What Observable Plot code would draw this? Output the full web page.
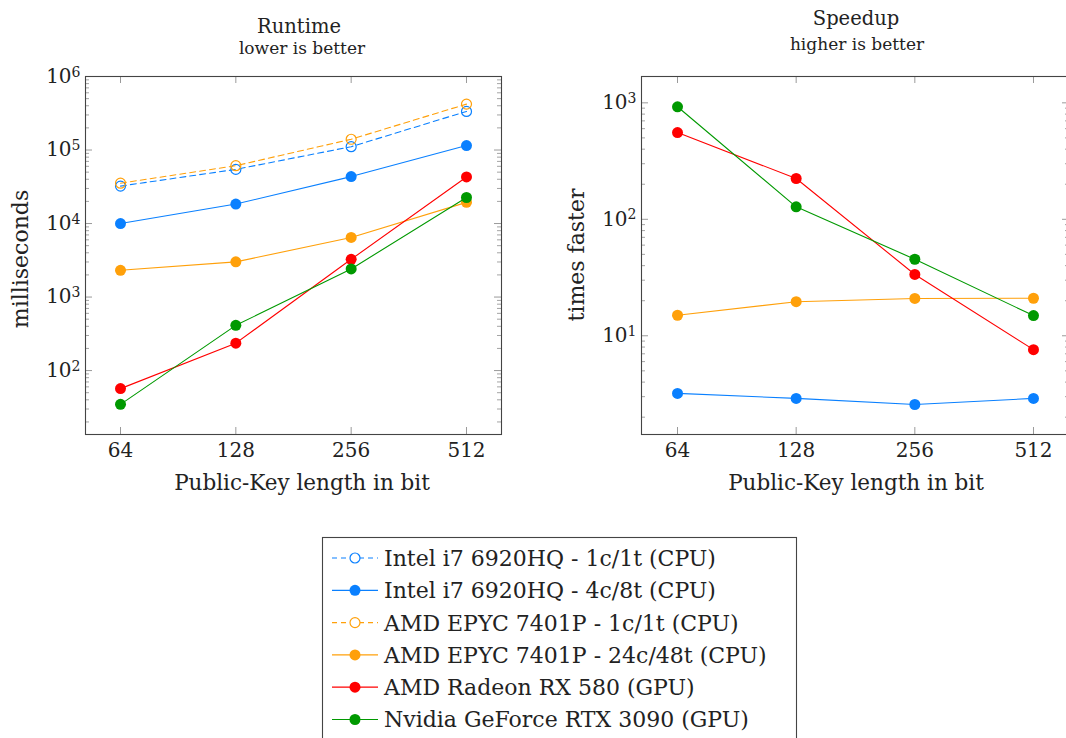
<!DOCTYPE html>
<html><head><meta charset="utf-8">
<script src="https://cdn.jsdelivr.net/npm/d3@7"></script>
<script src="https://cdn.jsdelivr.net/npm/@observablehq/plot@0.6"></script>
<style>
html,body{margin:0;padding:0;background:#fff;overflow:hidden;width:1066px;height:738px;}
#root{position:relative;width:1066px;height:738px;overflow:hidden;font-family:"DejaVu Serif",serif;color:#222;}
.panel{position:absolute;top:0;}
.t{position:absolute;white-space:nowrap;color:#222;line-height:1;}
#legend{position:absolute;left:0;top:0;}
</style></head><body><div id="root"></div>
<script>
// ---- data ----
const bits = [64, 128, 256, 512];
const seriesNames = [
  "Intel i7 6920HQ - 1c/1t (CPU)",
  "Intel i7 6920HQ - 4c/8t (CPU)",
  "AMD EPYC 7401P - 1c/1t (CPU)",
  "AMD EPYC 7401P - 24c/48t (CPU)",
  "AMD Radeon RX 580 (GPU)",
  "Nvidia GeForce RTX 3090 (GPU)"
];
const seriesColors = ["#0a80ff", "#0a80ff", "#ffa00a", "#ffa00a", "#ff0000", "#009900"];
const seriesDashed = [true, false, true, false, false, false];

// Runtime (milliseconds)
const runtimeIntel1c = [32300, 54500, 111000, 335000];
const runtimeIntel4c = [10000, 18400, 43500, 115000];
const runtimeAmd1c   = [35400, 61200, 140000, 421000];
const runtimeAmd24c  = [2310, 3010, 6460, 19400];
const runtimeRx580   = [56.8, 236, 3260, 43000];
const runtimeRtx3090 = [34.7, 412, 2410, 22600];

// Speedup (times faster)
const speedupIntel4c = [3.2, 2.9, 2.57, 2.9];
const speedupAmd24c  = [15.0, 19.6, 20.9, 21.0];
const speedupRx580   = [556, 224, 33.6, 7.6];
const speedupRtx3090 = [925, 128, 45.4, 14.9];

// axis ticks
const xTicks = [64, 128, 256, 512];
const runtimeMajor = [1e2, 1e3, 1e4, 1e5, 1e6];
const speedupMajor = [1e1, 1e2, 1e3];

const FONT = '"DejaVu Serif", serif';

// ---- build tables ----
function table(arrs) {
  const rows = [];
  arrs.forEach(([s, vals]) => vals.forEach((v, i) => rows.push({series: s, bits: bits[i], value: v})));
  return rows;
}
const runtimeRows = table([
  [0, runtimeIntel1c], [1, runtimeIntel4c], [2, runtimeAmd1c],
  [3, runtimeAmd24c], [4, runtimeRx580], [5, runtimeRtx3090]
]);
const speedupRows = table([
  [1, speedupIntel4c], [3, speedupAmd24c], [4, speedupRx580], [5, speedupRtx3090]
]);

function minorTicks(domain) {
  const out = [];
  const lo = Math.floor(Math.log10(domain[0])), hi = Math.ceil(Math.log10(domain[1]));
  for (let e = lo; e < hi; e++) for (let k = 2; k <= 9; k++) {
    const v = k * Math.pow(10, e);
    if (v >= domain[0] && v <= domain[1]) out.push(v);
  }
  return out;
}

function panel({left, width, height, mL, mR, mT, mB, yDomain, rows, major}) {
  const pad = Math.pow(2, 0.3035);
  const xDomain = [bits[0] / pad, bits[bits.length - 1] * pad];
  const fw = width - mL - mR, fh = height - mT - mB;
  const minor = minorTicks(yDomain);
  const tickColor = "#9a9a9a";
  const marks = [
    Plot.tickY(minor, {y: d => d, stroke: tickColor, strokeWidth: 0.9, insetRight: fw - 4}),
    Plot.tickY(minor, {y: d => d, stroke: tickColor, strokeWidth: 0.9, insetLeft: fw - 4}),
    Plot.tickY(major, {y: d => d, stroke: tickColor, strokeWidth: 1, insetRight: fw - 7}),
    Plot.tickY(major, {y: d => d, stroke: tickColor, strokeWidth: 1, insetLeft: fw - 7}),
    Plot.tickX(xTicks, {x: d => d, stroke: tickColor, strokeWidth: 1, insetTop: fh - 7}),
    Plot.tickX(xTicks, {x: d => d, stroke: tickColor, strokeWidth: 1, insetBottom: fh - 7}),
    Plot.axisX({ticks: xTicks, tickSize: 0, tickPadding: 8, tickFormat: d => String(d), fontSize: 20, label: null}),
    Plot.axisY({ticks: major, tickSize: 0, tickPadding: 5, tickFormat: d => "10^" + Math.round(Math.log10(d)), fontSize: 20, label: null}),
  ];
  seriesNames.forEach((name, s) => {
    const data = rows.filter(r => r.series === s);
    if (!data.length) return;
    marks.push(Plot.line(data, {x: "bits", y: "value", stroke: seriesColors[s], strokeWidth: 1.1,
      strokeDasharray: seriesDashed[s] ? "6,4" : null}));
    if (seriesDashed[s]) {
      marks.push(Plot.dot(data, {x: "bits", y: "value", r: 5, stroke: seriesColors[s], strokeWidth: 1.2, fill: "white", fillOpacity: 0}));
    } else {
      marks.push(Plot.dot(data, {x: "bits", y: "value", r: 5.5, fill: seriesColors[s], stroke: "none"}));
    }
  });
  marks.push(Plot.frame({stroke: "#444", strokeWidth: 1.1}));
  const svg = Plot.plot({
    width, height, marginLeft: mL, marginRight: mR, marginTop: mT, marginBottom: mB,
    style: {fontFamily: FONT, color: "#222", background: "transparent", overflow: "visible"},
    x: {type: "log", base: 2, domain: xDomain},
    y: {type: "log", domain: yDomain},
    marks
  });
  d3.select(svg).selectAll("text").each(function() {
    const t = this.textContent;
    const m = /^10\^(\d+)$/.exec(t);
    if (m) {
      const sel = d3.select(this);
      sel.text("10");
      sel.append("tspan").attr("dy", "-0.45em").attr("font-size", "14px").text(m[1]);
    }
  });
  svg.classList.add("panel");
  svg.style.left = left + "px";
  return svg;
}

const root = document.getElementById("root");
root.appendChild(panel({left: 0, width: 540, height: 510, mL: 85, mR: 39, mT: 76, mB: 76,
  yDomain: [13.5, 1e6], rows: runtimeRows, major: runtimeMajor}));
root.appendChild(panel({left: 540, width: 540, height: 510, mL: 101, mR: 11, mT: 76, mB: 76,
  yDomain: [1.42, 1683], rows: speedupRows, major: speedupMajor}));

function addText(txt, x, y, size, rotate) {
  const d = document.createElement("div");
  d.className = "t";
  d.textContent = txt;
  d.style.left = x + "px";
  d.style.top = y + "px";
  d.style.fontSize = size + "px";
  d.style.fontFamily = FONT;
  d.style.transform = rotate ? "translate(-50%,-50%) rotate(-90deg)" : "translate(-50%,-50%)";
  root.appendChild(d);
}
addText("Runtime", 299, 27, 19.5);
addText("lower is better", 302, 48, 17);
addText("Speedup", 856, 19, 19.5);
addText("higher is better", 857, 44, 17);
addText("Public-Key length in bit", 302, 483, 21.5);
addText("Public-Key length in bit", 856, 483, 21.5);
addText("milliseconds", 21, 259, 22, true);
addText("times faster", 577, 255, 22, true);

// ---- legend ----
const lg = d3.select(root).append("svg").attr("id", "legend").attr("width", 1066).attr("height", 738);
lg.append("rect").attr("x", 322.5).attr("y", 537.5).attr("width", 474).attr("height", 220)
  .attr("fill", "white").attr("stroke", "#444").attr("stroke-width", 1.1);
seriesNames.forEach((name, s) => {
  const cy = 558 + s * 32.3;
  const g = lg.append("g");
  g.append("line").attr("x1", 332).attr("x2", 378).attr("y1", cy).attr("y2", cy)
    .attr("stroke", seriesColors[s]).attr("stroke-width", 1.2)
    .attr("stroke-dasharray", seriesDashed[s] ? "5,4" : null);
  if (seriesDashed[s]) {
    g.append("circle").attr("cx", 355).attr("cy", cy).attr("r", 5).attr("fill", "white")
      .attr("stroke", seriesColors[s]).attr("stroke-width", 1.2);
  } else {
    g.append("circle").attr("cx", 355).attr("cy", cy).attr("r", 5.5).attr("fill", seriesColors[s]);
  }
  g.append("text").attr("x", 384).attr("y", cy).attr("dy", "0.36em")
    .attr("font-family", FONT).attr("font-size", 22).attr("fill", "#222").text(name);
});
</script>
</body></html>
